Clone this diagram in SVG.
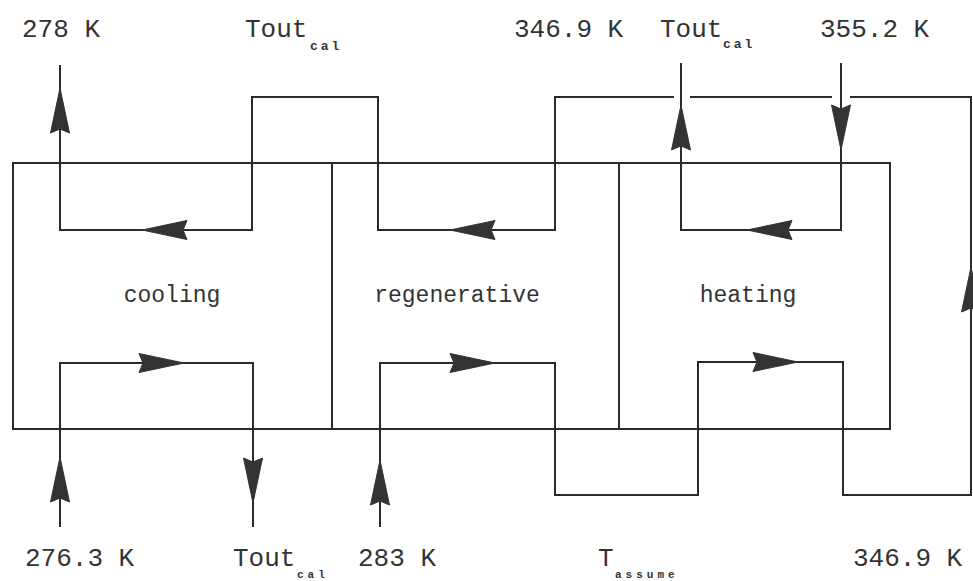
<svg xmlns="http://www.w3.org/2000/svg" width="973" height="581" viewBox="0 0 973 581">
<style>
.ln{fill:none;stroke:#2b2b2b;stroke-width:2;stroke-linejoin:miter}
.ar{fill:#333;stroke:#333;stroke-width:1}
.lb{font-family:"Liberation Mono","DejaVu Sans Mono",monospace;font-size:26px;fill:#333}
.nm{font-family:"Liberation Mono","DejaVu Sans Mono",monospace;font-size:23px;fill:#333}
.sb{font-family:"Liberation Mono","DejaVu Sans Mono",monospace;font-size:13px;font-weight:bold;fill:#333;letter-spacing:3px}
.sb2{font-family:"Liberation Mono","DejaVu Sans Mono",monospace;font-size:11px;font-weight:bold;fill:#333;letter-spacing:4px}
</style>
<defs>
<path id="arr" d="M0,0 L-45,-9.5 L-41,0 L-45,9.5 Z"/>
</defs>
<rect width="973" height="581" fill="#fff"/>
<g id="exchanger">
<rect class="ln" x="13" y="163" width="877" height="266"/>
</g>
<g id="cooling">
<line class="ln" x1="332" y1="163" x2="332" y2="429"/>
<text class="nm" x="172" y="302" text-anchor="middle">cooling</text>
</g>
<g id="regenerative">
<line class="ln" x1="619" y1="163" x2="619" y2="429"/>
<text class="nm" x="457" y="302" text-anchor="middle">regenerative</text>
</g>
<g id="heating">
<text class="nm" x="748" y="302" text-anchor="middle">heating</text>
</g>
<g id="connectors">
<path class="ln" d="M60,65 V230 H252 V97 H378 V230 H555 V97 H674 M690,97 H832 M850,97 H971 V495 H843 V362 H698 V495 H555 V363 H380 V527"/>
<path class="ln" d="M841,63 V230 H681 V63"/>
<path class="ln" d="M60,527 V363 H253 V527"/>
<g class="ar">
<use href="#arr" transform="translate(60,88) rotate(-90)"/>
<use href="#arr" transform="translate(142,230) rotate(180)"/>
<use href="#arr" transform="translate(450,230) rotate(180)"/>
<use href="#arr" transform="translate(747,230) rotate(180)"/>
<use href="#arr" transform="translate(681,105) rotate(-90)"/>
<use href="#arr" transform="translate(841,150) rotate(90)"/>
<use href="#arr" transform="translate(184,363)"/>
<use href="#arr" transform="translate(495,363)"/>
<use href="#arr" transform="translate(798,362)"/>
<use href="#arr" transform="translate(60,457) rotate(-90)"/>
<use href="#arr" transform="translate(253,503) rotate(90)"/>
<use href="#arr" transform="translate(380,460) rotate(-90)"/>
<use href="#arr" transform="translate(971,267) rotate(-90)"/>
</g>
</g>
<g id="labels">
<text class="lb" x="22" y="37">278 K</text>
<text class="lb" x="245" y="37">Tout</text>
<text class="sb" x="310" y="50">cal</text>
<text class="lb" x="514" y="37">346.9 K</text>
<text class="lb" x="660" y="37">Tout</text>
<text class="sb" x="723" y="48">cal</text>
<text class="lb" x="820" y="37">355.2 K</text>
<text class="lb" x="25" y="566">276.3 K</text>
<text class="lb" x="233" y="566">Tout</text>
<text class="sb2" x="297" y="578">cal</text>
<text class="lb" x="358" y="566">283 K</text>
<text class="lb" x="598" y="566">T</text>
<text class="sb2" x="615" y="578">assume</text>
<text class="lb" x="853" y="566">346.9 K</text>
</g>
</svg>
